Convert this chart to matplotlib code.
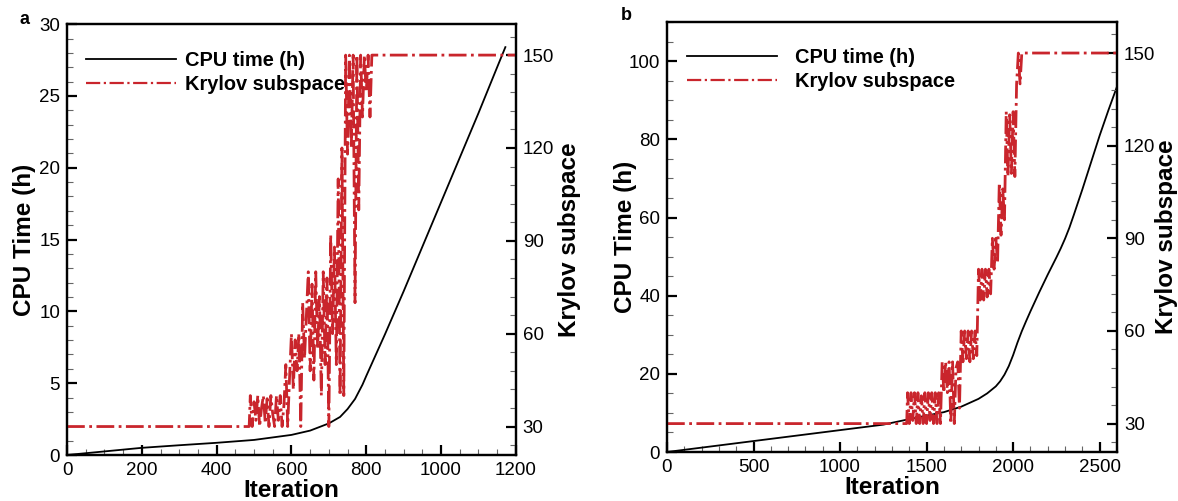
import numpy as np
import matplotlib.pyplot as plt
from matplotlib import ticker

plt.rcParams['font.family'] = ['Liberation Sans', 'DejaVu Sans']

RED = '#c9252c'

# panel a: CPU time (h) vs iteration
cpu_a_iter = [0, 100, 200, 300, 400, 500, 600, 650, 700, 730, 750, 770, 790,
              800, 850, 900, 950, 1000, 1050, 1100, 1150, 1172]
cpu_a_val = [0, 0.25, 0.5, 0.68, 0.85, 1.05, 1.4, 1.7, 2.2, 2.65, 3.2, 3.9, 4.9,
             5.5, 8.4, 11.4, 14.5, 17.6, 20.7, 23.8, 27.0, 28.4]

# panel a: Krylov subspace size
kry_a_iter = [0, 487, 490, 495, 500, 505, 510, 515, 520, 525, 530, 535, 540, 545, 550,
              555, 560, 565, 570, 575, 580, 585, 590, 595, 600, 605, 610, 615, 620,
              625, 630, 635, 640, 645, 650, 655, 660, 665, 670, 675, 680, 685, 690,
              695, 700, 705, 710, 715, 720, 725, 730, 735, 740, 745, 750, 755, 760,
              765, 770, 775, 780, 785, 790, 795, 800, 805, 810, 815, 820, 1200]
kry_a_val = [30, 30, 40, 30, 38, 32, 40, 30, 36, 40, 31, 39, 30, 40, 34,
             30, 40, 32, 40, 30, 37, 50, 30, 46, 60, 42, 58, 48, 60,
             30, 70, 52, 66, 80, 48, 76, 45, 80, 55, 72, 40, 80, 50,
             78, 30, 92, 60, 88, 50, 110, 40, 120, 40, 150, 118, 150, 120,
             150, 70, 150, 100, 150, 130, 150, 138, 150, 130, 150, 150, 150]

# panel b: CPU time (h) vs iteration
cpu_b_iter = [0, 250, 500, 750, 1000, 1250, 1420, 1600, 1700, 1800, 1850, 1900,
              1925, 1950, 1975, 2000, 2025, 2050, 2075, 2100, 2150, 2200, 2250,
              2275, 2300, 2325, 2350, 2400, 2450, 2500, 2550, 2600]
cpu_b_val = [0, 1.4, 2.8, 4.2, 5.6, 7.0, 8.6, 10.2, 11.6, 13.6, 15.0, 16.8,
             18.1, 19.8, 22.0, 24.8, 28.0, 30.9, 33.5, 36.0, 40.8, 45.4, 49.8,
             52.1, 54.6, 57.4, 60.6, 67.2, 74.1, 81.0, 87.4, 93.5]

# panel b: Krylov subspace size
kry_b_iter = [0, 1385, 1390, 1400, 1410, 1420, 1430, 1440, 1450, 1460, 1470, 1480,
              1490, 1500, 1510, 1520, 1530, 1540, 1550, 1560, 1570, 1580,
              1590, 1600, 1610, 1620, 1630, 1640, 1650, 1660, 1670, 1680, 1690,
              1700, 1710, 1720, 1730, 1740, 1750, 1760, 1770, 1780, 1790,
              1800, 1810, 1820, 1830, 1840, 1850, 1860, 1870,
              1880, 1890, 1900, 1910, 1920, 1930, 1940, 1950,
              1960, 1970, 1980, 1990, 2000, 2010, 2020, 2030, 2040, 2050, 2600]
kry_b_val = [30, 30, 40, 30, 40, 31, 40, 30, 40, 30, 39, 30,
             40, 30, 40, 31, 40, 30, 40, 30, 40, 30,
             50, 40, 50, 40, 50, 30, 50, 30, 48, 50, 35,
             60, 50, 60, 51, 60, 50, 60, 51, 60, 52,
             80, 70, 80, 70, 80, 71, 80, 72,
             90, 80, 90, 82, 108, 91, 106, 96,
             131, 110, 130, 111, 131, 110, 140, 150, 140, 150, 150]

legend_labels = ['CPU time (h)', 'Krylov subspace']

fig = plt.figure(figsize=(11.78, 5.01), dpi=100)


def style_ax(ax, side):
    for s in ax.spines.values():
        s.set_linewidth(1.6)
    ax.tick_params(which='both', direction='in', labelsize=13.5, pad=5)
    ax.tick_params(which='major', length=7, width=1.6)
    ax.tick_params(which='minor', length=4.5, width=0.8, color='#666666')
    if side == 'left':
        ax.tick_params(axis='y', which='both', left=True, right=False)
    ax.tick_params(axis='x', which='both', bottom=True, top=False)


def panel(rect, cpu_x, cpu_y, kry_x, kry_y, xmax, xmaj, xmin, ymax, ymaj, ymin,
          tag, tagpos, leg_anchor, textpad, lpad, rpad):
    ax = fig.add_axes(rect)
    l1, = ax.plot(cpu_x, cpu_y, color='black', lw=1.3)
    ax.set_xlim(0, xmax)
    ax.set_ylim(0, ymax)
    ax.xaxis.set_major_locator(ticker.MultipleLocator(xmaj))
    ax.xaxis.set_minor_locator(ticker.MultipleLocator(xmin))
    ax.yaxis.set_major_locator(ticker.MultipleLocator(ymaj))
    ax.yaxis.set_minor_locator(ticker.MultipleLocator(ymin))
    ax.set_xlabel('Iteration', fontsize=17.5, fontweight='bold', labelpad=0)
    ax.set_ylabel('CPU Time (h)', fontsize=17.5, fontweight='bold', labelpad=lpad)
    style_ax(ax, 'left')

    ax2 = ax.twinx()
    l2, = ax2.plot(kry_x, kry_y, color=RED, lw=2.0, ls='-.')
    ax2.set_ylim(20.8, 160)
    ax2.yaxis.set_major_locator(ticker.MultipleLocator(30))
    ax2.yaxis.set_minor_locator(ticker.MultipleLocator(6))
    ax2.set_ylabel('Krylov subspace', fontsize=17.5, fontweight='bold', labelpad=rpad)
    style_ax(ax2, 'right')

    leg = ax.legend([l1, l2], legend_labels, loc='upper left', bbox_to_anchor=leg_anchor,
                    frameon=False, borderpad=0, borderaxespad=0, handlelength=4.5,
                    handletextpad=textpad, labelspacing=0.25,
                    prop={'size': 14.4, 'weight': 'bold'})
    leg.get_lines()[1].set_linewidth(1.6)
    fig.text(tagpos[0], tagpos[1], tag, fontsize=13, fontweight='bold',
             ha='left', va='center')


panel([0.0569, 0.0918, 0.381, 0.860], cpu_a_iter, cpu_a_val, kry_a_iter, kry_a_val,
      1200, 200, 50, 30, 5, 1, 'a', (19 / 1178, 1 - 20 / 501), (0.042, 0.938), 0.45,
      2, 3)
panel([0.5662, 0.0978, 0.382, 0.858], cpu_b_iter, cpu_b_val, kry_b_iter, kry_b_val,
      2600, 500, 100, 110, 20, 5, 'b', (621 / 1178, 1 - 15 / 501), (0.044, 0.94), 0.9,
      -6, 0)

fig.savefig('out.png', dpi=100)
